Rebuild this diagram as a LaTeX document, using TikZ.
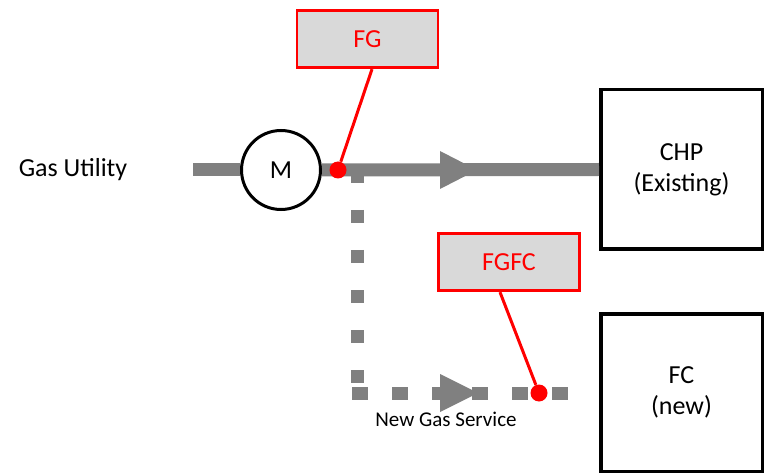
\documentclass[tikz,border=0pt]{standalone}
\usepackage{fontspec}
\setmainfont{Carlito}
\definecolor{pipegray}{RGB}{128,128,128}
\definecolor{tagred}{RGB}{255,0,0}
\definecolor{taggray}{RGB}{217,217,217}
\begin{document}
\begin{tikzpicture}[x=1pt,y=-1pt,
  pipe/.style={draw=pipegray,line width=13pt},
  newpipe/.style={draw=pipegray,line width=13pt},
  flowhead/.style={fill=pipegray},
  tag/.style={draw=tagred,line width=2.8pt,fill=taggray,text=tagred,
    minimum width=141pt,minimum height=57.5pt,inner sep=0pt,
    font=\fontsize{26}{30}\selectfont},
  unit/.style={draw=black,line width=3.5pt,minimum width=161.5pt,
    inner sep=0pt,align=center,font=\fontsize{26}{31}\selectfont},
  meter/.style={circle,draw=black,line width=3pt,fill=white,
    minimum size=79pt,inner sep=0pt,font=\fontsize{26}{30}\selectfont},
  probe/.style={circle,fill=tagred,minimum size=17pt,inner sep=0pt},
  lead/.style={draw=tagred,line width=3pt},
  label/.style={inner sep=0pt}]
\useasboundingbox (0,0) rectangle (766,473);

% equipment
\node[unit,minimum height=159.5pt] (CHP) at (681.5,169.5) {CHP\\(Existing)};
\node[unit,minimum height=157.5pt] (FC) at (681.5,392.5) {FC\\(new)};

% new gas service branch (square-dotted)
\coordinate (tap)   at (357,170);
\coordinate (bend)  at (357,393);
\coordinate (hstart) at (352,393);
\coordinate (fcend) at (573,393);
\draw[newpipe,dash pattern=on 13pt off 27pt] (tap) -- (bend);
\draw[newpipe,dash pattern=on 16pt off 24pt] (hstart) -- (fcend);
\fill[flowhead] (440,374) -- (478,393) -- (440,412) -- cycle;

% existing gas line
\coordinate (src) at (193,170);
\node[meter] (M) at (281,170) {M};
\draw[pipe] (src) -- (M.west);
\draw[pipe] (M.east) -- (CHP.west);
\fill[flowhead] (440,151) -- (477,170) -- (440,189) -- cycle;

% flow meter tags
\node[tag] (FG) at (367.5,39) {FG};
\node[tag] (FGFC) at (509,262) {FGFC};
\node[probe] (p1) at (338,170) {};
\node[probe] (p2) at (539,393) {};
\draw[lead] ([xshift=4.5pt]FG.south) -- (p1);
\draw[lead] ([xshift=-9pt]FGFC.south) -- (p2);

% labels
\node[label,font=\fontsize{26}{30}\selectfont] (gas) at (73,170) {Gas Utility};
\node[label,font=\fontsize{21}{25}\selectfont] (ngs) at (446,419) {New Gas Service};
\end{tikzpicture}
\end{document}
